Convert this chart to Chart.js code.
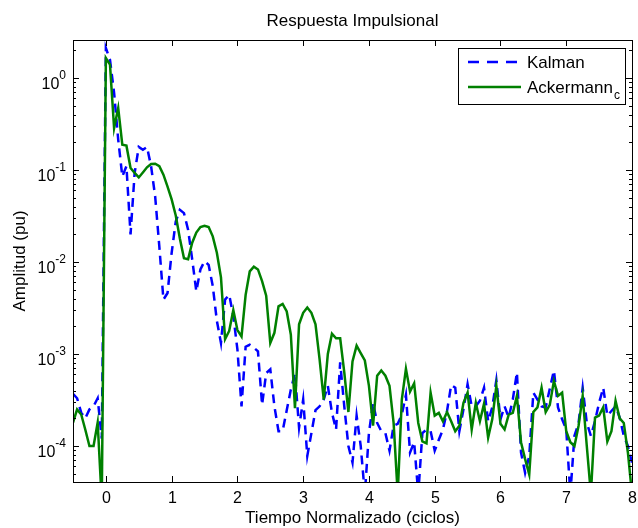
<!DOCTYPE html>
<html lang="es">
<head>
<meta charset="UTF-8" />
<title>Respuesta Impulsional</title>
<script src="https://cdn.jsdelivr.net/npm/chart.js@4"></script>
<style>
  html, body { margin: 0; padding: 0; background: #fff; }
  canvas { display: block; }
</style>
</head>
<body>
<canvas id="impulso" width="638" height="528"></canvas>
<script>
  // muestreo: 16 muestras por ciclo, desde -0.5
  const t0 = -0.5;
  const dt = 1 / 16;

  const kalman = [
    3.7e-4, 3.3e-4, 2.3e-4, 2.0e-4, 2.5e-4, 2.7e-4, 3.3e-4, 1.2e-4,
    2.12, 1.58, 0.69, 0.214, 0.085, 0.11, 0.02, 0.093,
    0.178, 0.166, 0.178, 0.11, 0.051, 0.0148, 0.0039, 0.0046,
    0.0126, 0.0275, 0.037, 0.034, 0.0224, 0.0107, 0.0048, 0.0083,
    0.0102, 0.0093, 0.0055, 0.0023, 0.00132, 0.0039, 0.0044, 0.0026,
    0.00112, 0.00027, 0.0012, 0.00126, 0.00117, 0.00107, 0.00028, 0.00062,
    0.00068, 0.00027, 0.000145, 0.000145, 0.000245, 0.00041, 0.00062, 0.000158,
    0.00032, 0.000078, 0.000138, 0.000245, 0.00027, 0.00032, 0.00045, 0.00023,
    0.000151, 0.00081, 0.00027, 0.0001, 0.000066, 0.000214, 0.0001, 0.00003,
    0.000138, 0.000295, 0.000178, 0.000145, 0.000138, 0.000089, 0.000166, 0.000174,
    0.000219, 0.00036, 0.000085, 0.00011, 0.00003, 0.000138, 0.000151, 0.000145,
    0.000089, 0.000117, 0.000151, 0.00024, 0.00046, 0.00043, 0.000145, 0.00025,
    0.00047, 0.00027, 0.00027, 0.00031, 0.00043, 0.000186, 0.000263, 0.00052,
    0.000195, 0.00027, 0.000204, 0.00032, 0.00063, 0.000085, 0.000051, 0.000078,
    0.00038, 0.00032, 0.00027, 0.000263, 0.00042, 0.00066, 0.000263, 0.000195,
    0.000151, 0.00003, 0.000129, 0.000178, 0.00043, 0.000178, 0.000129, 0.000186,
    0.000295, 0.00043, 0.000214, 0.00024, 0.00027, 0.000204, 0.000129, 0.0001,
    0.000066
  ];

  const ackermann = [
    1.8e-4, 2.5e-4, 2.2e-4, 1.5e-4, 1.0e-4, 1.0e-4, 1.8e-4, 2.5e-5,
    1.65, 1.40, 0.286, 0.472, 0.188, 0.184, 0.105, 0.093,
    0.083, 0.094, 0.107, 0.116, 0.117, 0.110, 0.089, 0.066,
    0.048, 0.032, 0.018, 0.011, 0.0107, 0.0162, 0.0209, 0.024,
    0.0248, 0.024, 0.019, 0.0126, 0.0068, 0.00145, 0.00178, 0.0030,
    0.00182, 0.00155, 0.0044, 0.0079, 0.0089, 0.0083, 0.0062, 0.0043,
    0.00132, 0.0017, 0.0033, 0.0035, 0.0029, 0.00162, 0.000257, 0.0021,
    0.0028, 0.0032, 0.0028, 0.0021, 0.00087, 0.00032, 0.0010, 0.00166,
    0.00148, 0.00148, 0.00063, 0.000234, 0.00083, 0.00123, 0.00102, 0.00085,
    0.00045, 0.000166, 0.00058, 0.00066, 0.00058, 0.00045, 0.000178, 0.00003,
    0.00032, 0.00069, 0.00039, 0.00048, 0.000178, 0.000112, 0.000107, 0.00038,
    0.000214, 0.000229, 0.000186, 0.000234, 0.000186, 0.000145, 0.000166, 0.000295,
    0.00038, 0.000151, 0.000295, 0.000186, 0.000288, 0.000123, 0.000195, 0.00045,
    0.000174, 0.000151, 0.000219, 0.000229, 0.00035, 0.00011, 0.000072, 0.000049,
    0.000234, 0.000263, 0.00043, 0.000234, 0.00028, 0.00051, 0.00035, 0.00038,
    0.000145, 0.00011, 0.0001, 0.000166, 0.00035, 0.0001, 0.00003, 0.000204,
    0.000214, 0.000263, 0.000112, 0.000145, 0.00031, 0.0002, 0.000178, 0.000085,
    0.00003
  ];

  const xTicks = [0, 1, 2, 3, 4, 5, 6, 7, 8];
  const yTicks = [1e-4, 1e-3, 1e-2, 1e-1, 1];
  const yExps = ['-4', '-3', '-2', '-1', '0'];

  const FONT = '"Liberation Sans", Arial, Helvetica, sans-serif';

  const toPoints = arr => arr.map((v, i) => ({ x: t0 + i * dt, y: v }));

  // ejes estilo matlab: caja, ticks hacia dentro, etiquetas, leyenda
  const matlabAxes = {
    id: 'matlabAxes',
    afterDraw(chart) {
      const c = chart.ctx;
      const a = chart.chartArea;
      const xs = chart.scales.x, ys = chart.scales.y;
      c.save();
      c.strokeStyle = '#000';
      c.fillStyle = '#000';
      c.lineWidth = 1;

      // ticks x
      c.font = '16px ' + FONT;
      c.textAlign = 'center';
      c.textBaseline = 'alphabetic';
      xTicks.forEach(v => {
        const px = Math.round(xs.getPixelForValue(v)) + 0.5;
        c.beginPath();
        c.moveTo(px, a.bottom); c.lineTo(px, a.bottom - 6);
        c.moveTo(px, a.top); c.lineTo(px, a.top + 6);
        c.stroke();
        c.fillText(String(v), px, a.bottom + 21);
      });

      // ticks y (mayores + menores)
      for (let e = -5; e <= 0; e++) {
        for (let m = 1; m <= 9; m++) {
          const v = m * Math.pow(10, e);
          if (v < ys.min || v > ys.max) continue;
          const py = Math.round(ys.getPixelForValue(v)) + 0.5;
          const len = m === 1 ? 6 : 3;
          c.beginPath();
          c.moveTo(a.left, py); c.lineTo(a.left + len, py);
          c.moveTo(a.right, py); c.lineTo(a.right - len, py);
          c.stroke();
        }
      }
      yTicks.forEach((v, i) => {
        const py = ys.getPixelForValue(v);
        c.textAlign = 'right';
        c.font = '12px ' + FONT;
        const ew = c.measureText(yExps[i]).width;
        const xr = 66;
        c.fillText(yExps[i], xr, py + 1);
        c.font = '16px ' + FONT;
        c.fillText('10', xr - ew, py + 11);
      });

      // caja
      c.strokeRect(Math.round(a.left) + 0.5, Math.round(a.top) + 0.5,
                   Math.round(a.right - a.left), Math.round(a.bottom - a.top));

      // titulos
      c.textAlign = 'center';
      c.font = '17px ' + FONT;
      const cx = (a.left + a.right) / 2;
      c.fillText('Respuesta Impulsional', cx, 26);
      c.fillText('Tiempo Normalizado (ciclos)', cx, 523);
      c.save();
      c.translate(25, (a.top + a.bottom) / 2);
      c.rotate(-Math.PI / 2);
      c.fillText('Amplitud (pu)', 0, 0);
      c.restore();

      // leyenda
      const lx = 458, ly = 48, lw = 167, lh = 56;
      c.fillStyle = '#fff';
      c.fillRect(lx, ly, lw, lh);
      c.strokeStyle = '#000';
      c.strokeRect(lx + 0.5, ly + 0.5, lw, lh);
      c.lineWidth = 2.5;
      c.strokeStyle = '#0000ff';
      c.setLineDash([11, 8]);
      c.beginPath(); c.moveTo(468, 62); c.lineTo(521, 62); c.stroke();
      c.setLineDash([]);
      c.strokeStyle = '#008000';
      c.beginPath(); c.moveTo(468, 87); c.lineTo(521, 87); c.stroke();
      c.fillStyle = '#000';
      c.textAlign = 'left';
      c.font = '17px ' + FONT;
      c.fillText('Kalman', 527, 68);
      c.fillText('Ackermann', 527, 93);
      const aw = c.measureText('Ackermann').width;
      c.font = '12px ' + FONT;
      c.fillText('c', 527 + aw + 1, 99);
      c.restore();
    }
  };

  new Chart(document.getElementById('impulso'), {
    type: 'line',
    data: {
      datasets: [
        {
          label: 'Kalman',
          data: toPoints(kalman),
          borderColor: '#0000ff',
          borderWidth: 2.5,
          borderDash: [9, 6],
          order: 2
        },
        {
          label: 'Ackermann_c',
          data: toPoints(ackermann),
          borderColor: '#008000',
          borderWidth: 2.5,
          order: 1
        }
      ]
    },
    options: {
      responsive: false,
      animation: false,
      layout: { padding: { left: 73, right: 6, top: 40, bottom: 46 } },
      elements: { point: { radius: 0 }, line: { tension: 0 } },
      plugins: {
        legend: { display: false },
        title: { display: false },
        tooltip: { enabled: false }
      },
      scales: {
        x: { type: 'linear', min: -0.5, max: 8, display: false },
        y: { type: 'logarithmic', min: 4.06e-5, max: 2.59, display: false }
      }
    },
    plugins: [matlabAxes]
  });
</script>
</body>
</html>
